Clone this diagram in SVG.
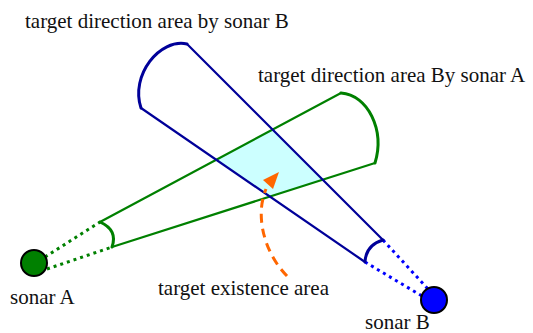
<svg xmlns="http://www.w3.org/2000/svg" width="533" height="333" viewBox="0 0 533 333">
<style>
text{font-family:"Liberation Serif","Times New Roman",serif;font-size:21px;fill:#111}
.g{fill:none;stroke:#008000;stroke-width:2.2;stroke-linejoin:round}
.b{fill:none;stroke:#000099;stroke-width:2.2;stroke-linejoin:round}
.ga{fill:none;stroke:#008000;stroke-width:3;stroke-linecap:round}
.ba{fill:none;stroke:#000099;stroke-width:3;stroke-linecap:round}
.gd{fill:none;stroke:#008000;stroke-width:3;stroke-dasharray:3 4}
.bd{fill:none;stroke:#0000FF;stroke-width:3;stroke-dasharray:3 4}
</style>
<rect width="533" height="333" fill="#fff"/>
<polygon id="existence-area" points="216.3,159.8 272.6,129.6 322.7,179.7 269.9,196.6" fill="#CCFFFF"/>
<g id="connectors">
<path class="gd" d="M45,257 L100,222 M47,269 L112,247"/>
<path class="bd" d="M383,240 L428,289 M365,262 L422,296"/>
<path class="g" d="M100,222 L341,93 M112,247 L375,163"/>
<path class="b" d="M383,240 L187,44 M365,262 L141,108"/>
<path class="ga" d="M100,222 Q118,230 112,247"/>
<path class="ga" d="M341,93 C368,95 385,130 375,163"/>
<path class="ba" d="M383,240 Q366,245 365,262"/>
<path class="ba" d="M187,44 C160,38 130,75 141,108"/>
<path d="M287,276 C266,255 254,218 266,189" fill="none" stroke="#FF6600" stroke-width="3" stroke-dasharray="9 6"/>
<polygon points="279,172 263,180 273,189" fill="#FF6600"/>
</g>
<g id="sonar-A">
<circle cx="34" cy="263" r="13" fill="#008000" stroke="#000" stroke-width="2"/>
<text x="10" y="304">sonar A</text>
</g>
<g id="sonar-B">
<circle cx="434" cy="300" r="13" fill="#0000FF" stroke="#000" stroke-width="2"/>
<text x="365" y="329">sonar B</text>
</g>
<g id="label-B"><text x="25" y="28">target direction area by sonar B</text></g>
<g id="label-A"><text x="258" y="82">target direction area By sonar A</text></g>
<g id="label-existence"><text x="158" y="295">target existence area</text></g>
</svg>
